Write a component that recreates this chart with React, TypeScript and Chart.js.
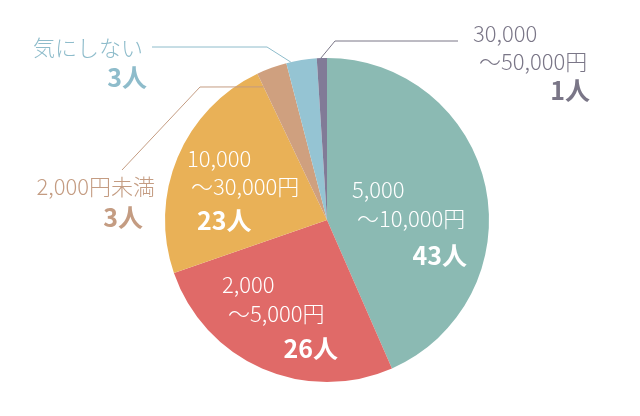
import React, { useEffect, useRef } from "react";
import { Chart, registerables } from "chart.js";

Chart.register(...registerables);

const categories = [
  "5,000〜10,000円",
  "2,000〜5,000円",
  "10,000〜30,000円",
  "2,000円未満",
  "気にしない",
  "30,000〜50,000円",
];
const counts = [43, 26, 23, 3, 3, 1];
const colors = ["#8BBAB3", "#E06A68", "#E9B157", "#CFA07F", "#95C4D3", "#817B97"];
const textColors = ["#FFFFFF", "#FFFFFF", "#FFFFFF", "#C49C82", "#8EBCCB", "#7A7687"];
const labelLines = [
  ["5,000", "〜10,000円"],
  ["2,000", "〜5,000円"],
  ["10,000", "〜30,000円"],
  ["2,000円未満"],
  ["気にしない"],
  ["30,000", "〜50,000円"],
];
const countLabels = counts.map((c) => `${c}人`);

// label layout (offsets relative to pie center)
type Line = { dx: number; dy: number; align: CanvasTextAlign };
const layouts: { lines: Line[]; count: Line; leader?: { frac: number; r: number; pts: [number, number][] } }[] = [
  { lines: [{ dx: 25, dy: -22, align: "left" }, { dx: 30, dy: 7, align: "left" }], count: { dx: 140, dy: 45, align: "right" } },
  { lines: [{ dx: -105, dy: 73, align: "left" }, { dx: -99, dy: 102, align: "left" }], count: { dx: 11, dy: 138, align: "right" } },
  { lines: [{ dx: -140, dy: -53, align: "left" }, { dx: -136, dy: -25, align: "left" }], count: { dx: -130, dy: 10, align: "left" } },
  {
    lines: [{ dx: -172, dy: -25, align: "right" }],
    count: { dx: -184, dy: 7, align: "right" },
    leader: { frac: 0.0, r: 0.91, pts: [[-127, -133], [-205, -50]] },
  },
  {
    lines: [{ dx: -184, dy: -164, align: "right" }],
    count: { dx: -180, dy: -133, align: "right" },
    leader: { frac: 0.15, r: 1.0, pts: [[-60, -173], [-175, -173]] },
  },
  {
    lines: [{ dx: 146, dy: -178, align: "left" }, { dx: 152, dy: -150, align: "left" }],
    count: { dx: 263, dy: -120, align: "right" },
    leader: { frac: 0.4, r: 1.0, pts: [[8, -179], [131, -179]] },
  },
];

const labelPlugin = {
  id: "pieLabels",
  afterDatasetsDraw(chart: any) {
    const ctx = chart.ctx as CanvasRenderingContext2D;
    const meta = chart.getDatasetMeta(0);
    meta.data.forEach((arc: any, i: number) => {
      const cx = arc.x;
      const cy = arc.y;
      const lay = layouts[i];
      ctx.save();
      if (lay.leader) {
        const ang = arc.startAngle + (arc.endAngle - arc.startAngle) * lay.leader.frac;
        const r = arc.outerRadius * lay.leader.r;
        ctx.strokeStyle = textColors[i];
        ctx.lineWidth = 1;
        ctx.beginPath();
        ctx.moveTo(cx + Math.cos(ang) * r, cy + Math.sin(ang) * r);
        lay.leader.pts.forEach(([dx, dy]) => ctx.lineTo(cx + dx, cy + dy));
        ctx.stroke();
      }
      ctx.fillStyle = textColors[i];
      ctx.textBaseline = "alphabetic";
      ctx.font = '300 22px "Noto Sans CJK JP", "Noto Sans", sans-serif';
      labelLines[i].forEach((t, j) => {
        const l = lay.lines[j];
        ctx.textAlign = l.align;
        ctx.fillText(t, cx + l.dx, cy + l.dy);
      });
      ctx.font = '700 25px "Noto Sans CJK JP", "Noto Sans", sans-serif';
      ctx.textAlign = lay.count.align;
      ctx.fillText(countLabels[i], cx + lay.count.dx, cy + lay.count.dy);
      ctx.restore();
    });
  },
};

export default function App() {
  const ref = useRef<HTMLCanvasElement>(null);
  useEffect(() => {
    document.body.style.margin = "0";
    const chart = new Chart(ref.current!, {
      type: "pie",
      data: {
        labels: categories,
        datasets: [{ data: counts, backgroundColor: colors, borderWidth: 0 }],
      },
      options: {
        responsive: false,
        animation: false,
        layout: { padding: { top: 58, bottom: 34, left: 165, right: 151 } },
        plugins: { legend: { display: false }, tooltip: { enabled: false } },
      },
      plugins: [labelPlugin],
    });
    return () => chart.destroy();
  }, []);
  return (
    <div style={{ width: 640, height: 416, background: "#fff" }}>
      <canvas ref={ref} width={640} height={416} />
    </div>
  );
}
